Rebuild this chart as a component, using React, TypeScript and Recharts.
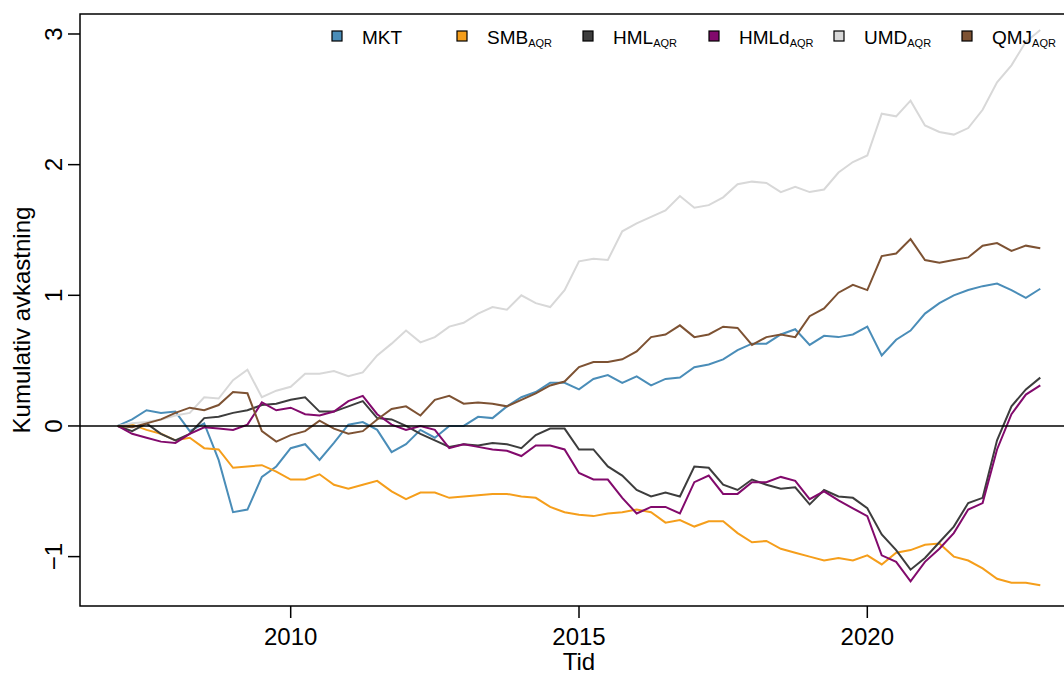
import React from 'react'
import {
  LineChart,
  Line,
  XAxis,
  YAxis,
  ReferenceLine,
  ReferenceArea,
} from 'recharts'

// quarterly observations, 2007 Q1 .. 2023 Q1
const tid = [
  2007, 2007.25, 2007.5, 2007.75, 2008, 2008.25, 2008.5, 2008.75,
  2009, 2009.25, 2009.5, 2009.75, 2010, 2010.25, 2010.5, 2010.75,
  2011, 2011.25, 2011.5, 2011.75, 2012, 2012.25, 2012.5, 2012.75,
  2013, 2013.25, 2013.5, 2013.75, 2014, 2014.25, 2014.5, 2014.75,
  2015, 2015.25, 2015.5, 2015.75, 2016, 2016.25, 2016.5, 2016.75,
  2017, 2017.25, 2017.5, 2017.75, 2018, 2018.25, 2018.5, 2018.75,
  2019, 2019.25, 2019.5, 2019.75, 2020, 2020.25, 2020.5, 2020.75,
  2021, 2021.25, 2021.5, 2021.75, 2022, 2022.25, 2022.5, 2022.75,
  2023,
]

const mkt = [
  0, 0.05, 0.12, 0.1, 0.11, -0.04, 0.02, -0.26,
  -0.66, -0.64, -0.39, -0.31, -0.17, -0.14, -0.26, -0.13,
  0.01, 0.03, -0.03, -0.2, -0.14, -0.03, -0.09, 0,
  0, 0.07, 0.06, 0.15, 0.22, 0.26, 0.33, 0.33,
  0.28, 0.36, 0.39, 0.33, 0.38, 0.31, 0.36, 0.37,
  0.45, 0.47, 0.51, 0.58, 0.63, 0.63, 0.7, 0.74,
  0.62, 0.69, 0.68, 0.7, 0.76, 0.54, 0.66, 0.73,
  0.86, 0.94, 1.0, 1.04, 1.07, 1.09, 1.04, 0.98,
  1.05,
]

const smb = [
  0, 0.01, -0.03, -0.06, -0.11, -0.09, -0.17, -0.18,
  -0.32, -0.31, -0.3, -0.35, -0.41, -0.41, -0.37, -0.45,
  -0.48, -0.45, -0.42, -0.5, -0.56, -0.51, -0.51, -0.55,
  -0.54, -0.53, -0.52, -0.52, -0.54, -0.55, -0.62, -0.66,
  -0.68, -0.69, -0.67, -0.66, -0.64, -0.66, -0.74, -0.72,
  -0.77, -0.73, -0.73, -0.82, -0.89, -0.88, -0.94, -0.97,
  -1.0, -1.03, -1.01, -1.03, -0.99, -1.06, -0.97, -0.95,
  -0.91, -0.9, -1.0, -1.03, -1.09, -1.17, -1.2, -1.2,
  -1.22,
]

const hml = [
  0, -0.04, 0.02, -0.06, -0.11, -0.06, 0.06, 0.07,
  0.1, 0.12, 0.16, 0.17, 0.2, 0.22, 0.11, 0.11,
  0.15, 0.19, 0.06, 0.05, 0, -0.06, -0.11, -0.16,
  -0.14, -0.15, -0.13, -0.14, -0.17, -0.07, -0.02, -0.02,
  -0.18, -0.18, -0.31, -0.38, -0.49, -0.54, -0.51, -0.54,
  -0.31, -0.32, -0.45, -0.49, -0.41, -0.45, -0.48, -0.47,
  -0.6, -0.49, -0.54, -0.55, -0.63, -0.83, -0.95, -1.1,
  -1.01, -0.89, -0.77, -0.59, -0.55, -0.11, 0.15, 0.28,
  0.37,
]

const hmld = [
  0, -0.06, -0.09, -0.12, -0.13, -0.06, -0.01, -0.02,
  -0.03, 0.01, 0.18, 0.12, 0.14, 0.09, 0.08, 0.11,
  0.19, 0.23, 0.09, 0.01, -0.03, 0, -0.03, -0.17,
  -0.14, -0.16, -0.18, -0.19, -0.23, -0.15, -0.15, -0.18,
  -0.36, -0.41, -0.41, -0.55, -0.67, -0.62, -0.62, -0.67,
  -0.43, -0.38, -0.52, -0.52, -0.43, -0.43, -0.39, -0.42,
  -0.56, -0.5, -0.57, -0.63, -0.69, -0.99, -1.04, -1.19,
  -1.04, -0.94, -0.82, -0.64, -0.59, -0.18, 0.09, 0.24,
  0.31,
]

const umd = [
  0, 0.02, 0.03, 0.05, 0.08, 0.1, 0.22, 0.21,
  0.35, 0.43, 0.22, 0.27, 0.3, 0.4, 0.4, 0.42,
  0.38, 0.41, 0.54, 0.63, 0.73, 0.64, 0.68, 0.76,
  0.79, 0.86, 0.91, 0.89, 1.0, 0.94, 0.91, 1.04,
  1.26, 1.28, 1.27, 1.49, 1.55, 1.6, 1.65, 1.76,
  1.67, 1.69, 1.75, 1.85, 1.87, 1.86, 1.79, 1.83,
  1.79, 1.81, 1.94, 2.02, 2.07, 2.39, 2.37, 2.49,
  2.3, 2.25, 2.23, 2.28, 2.42, 2.63, 2.76, 2.94,
  3.03,
]

const qmj = [
  0, -0.01, 0.02, 0.05, 0.1, 0.14, 0.12, 0.16,
  0.26, 0.25, -0.04, -0.12, -0.07, -0.04, 0.04, -0.02,
  -0.06, -0.04, 0.05, 0.13, 0.15, 0.08, 0.2, 0.23,
  0.17, 0.18, 0.17, 0.15, 0.2, 0.25, 0.31, 0.34,
  0.45, 0.49, 0.49, 0.51, 0.57, 0.68, 0.7, 0.77,
  0.68, 0.7, 0.76, 0.75, 0.62, 0.68, 0.7, 0.68,
  0.84, 0.9, 1.02, 1.08, 1.04, 1.3, 1.32, 1.43,
  1.27, 1.25, 1.27, 1.29, 1.38, 1.4, 1.34, 1.38,
  1.36,
]

const xTicks = [2010, 2015, 2020]
const yTicks = [-1, 0, 1, 2, 3]

const series = [
  { key: 'mkt', name: 'MKT', sub: '', color: '#4A8DB8' },
  { key: 'smb', name: 'SMB', sub: 'AQR', color: '#F59E1B' },
  { key: 'hml', name: 'HML', sub: 'AQR', color: '#3D3D3D' },
  { key: 'hmld', name: 'HMLd', sub: 'AQR', color: '#820A6C' },
  { key: 'umd', name: 'UMD', sub: 'AQR', color: '#D8D8D8' },
  { key: 'qmj', name: 'QMJ', sub: 'AQR', color: '#7D5233' },
]
const legendX = [332, 457, 583, 709, 834, 962]

const data = tid.map((t, i) => ({
  t,
  mkt: mkt[i],
  smb: smb[i],
  hml: hml[i],
  hmld: hmld[i],
  umd: umd[i],
  qmj: qmj[i],
}))

const FONT = '"Liberation Sans", Arial, Helvetica, sans-serif'

const XTick = ({ x, payload }: any) => (
  <text x={x} y={645} textAnchor="middle" fontSize={24} fill="#000" fontFamily={FONT}>
    {payload.value}
  </text>
)

const YTick = ({ y, payload }: any) => (
  <text
    x={62}
    y={y}
    transform={`rotate(-90 62 ${y})`}
    textAnchor="middle"
    fontSize={24}
    fill="#000"
    fontFamily={FONT}
  >
    {payload.value < 0 ? '\u2212' + Math.abs(payload.value) : payload.value}
  </text>
)

export default function App() {
  return (
    <div style={{ position: 'absolute', left: 0, top: 0, width: 1064, height: 675, overflow: 'hidden', background: '#fff' }}>
      <LineChart
        width={1090}
        height={675}
        data={data}
        margin={{ top: 14, right: 12, bottom: 9, left: 0 }}
      >
        <XAxis
          dataKey="t"
          type="number"
          domain={[2006.346, 2023.654]}
          ticks={xTicks}
          tick={<XTick />}
          tickSize={12}
          tickLine={{ stroke: '#000', strokeWidth: 1.5 }}
          axisLine={false}
          height={60}
          allowDataOverflow
          label={{
            content: () => (
              <text x={579} y={670} textAnchor="middle" fontSize={24} fill="#000" fontFamily={FONT}>
                Tid
              </text>
            ),
          }}
        />
        <YAxis
          type="number"
          domain={[-1.378, 3.153]}
          ticks={yTicks}
          tick={<YTick />}
          tickSize={12}
          tickLine={{ stroke: '#000', strokeWidth: 1.5 }}
          axisLine={false}
          width={80}
          allowDataOverflow
          label={{
            content: () => (
              <text
                x={30}
                y={320}
                transform="rotate(-90 30 320)"
                textAnchor="middle"
                fontSize={24}
                fill="#000"
                fontFamily={FONT}
              >
                Kumulativ avkastning
              </text>
            ),
          }}
        />
        <ReferenceArea
          x1={2006.346}
          x2={2023.654}
          y1={-1.378}
          y2={3.153}
          fill="none"
          fillOpacity={0}
          stroke="#000"
          strokeWidth={1.5}
          strokeOpacity={1}
        />
        {series.map(s => (
          <Line
            key={s.key}
            dataKey={s.key}
            type="linear"
            stroke={s.color}
            strokeWidth={2}
            dot={false}
            isAnimationActive={false}
          />
        ))}
        <ReferenceLine y={0} stroke="#000" strokeWidth={1.5} />
      </LineChart>
      {/* legend, drawn as in the R plot (no box) */}
      <svg
        width={1064}
        height={60}
        style={{ position: 'absolute', left: 0, top: 0, pointerEvents: 'none' }}
        fontFamily={FONT}
      >
        {series.map((s, i) => (
          <g key={s.key}>
            <rect x={legendX[i]} y={31} width={10} height={10} fill={s.color} stroke="#000" strokeWidth={1.2} />
            <text x={legendX[i] + 30} y={44} fontSize={19} fill="#000">
              {s.name}
              {s.sub && (
                <tspan fontSize={11} dy={3}>
                  {s.sub}
                </tspan>
              )}
            </text>
          </g>
        ))}
      </svg>
    </div>
  )
}
